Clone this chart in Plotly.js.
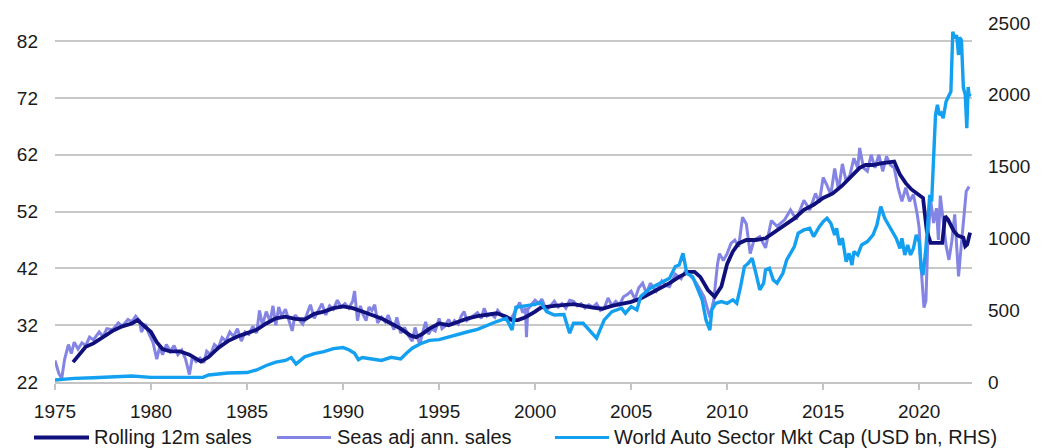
<!DOCTYPE html>
<html>
<head>
<meta charset="utf-8">
<script src="https://cdn.plot.ly/plotly-3.0.1.min.js"></script>
<style>html,body{margin:0;padding:0;background:#fff;}#chart{width:1055px;height:448px;}</style>
</head>
<body>
<div id="chart"></div>
<script>
// ---- Data ----
const rollYears = [1975.94,1976.3,1976.6,1977.0,1977.5,1978.0,1978.5,1979.0,1979.3,1979.7,1980.0,1980.3,1980.6,1981.0,1981.5,1982.0,1982.3,1982.6,1983.0,1983.5,1984.0,1984.5,1985.0,1985.5,1986.0,1986.5,1987.0,1987.5,1988.0,1988.5,1989.0,1989.5,1990.0,1990.5,1991.0,1991.5,1992.0,1992.5,1993.0,1993.5,1993.8,1994.1,1994.5,1995.0,1995.5,1996.0,1996.5,1997.0,1997.5,1998.0,1998.5,1998.8,1999.1,1999.5,2000.0,2000.3,2001.0,2002.0,2003.0,2003.5,2004.0,2004.5,2005.0,2005.5,2006.0,2006.5,2007.0,2007.5,2008.0,2008.3,2008.6,2009.0,2009.35,2009.7,2010.0,2010.3,2010.6,2011.0,2011.5,2012.0,2012.5,2013.0,2013.5,2014.0,2014.5,2015.0,2015.5,2016.0,2016.5,2016.9,2017.2,2017.6,2018.0,2018.7,2019.0,2019.3,2019.6,2020.0,2020.2,2020.4,2020.6,2021.2,2021.35,2021.5,2021.8,2022.0,2022.3,2022.4,2022.5,2022.65];
const rollSales = [25.5,27.0,28.2,28.8,29.9,31.0,31.8,32.3,32.9,31.8,30.8,29.0,27.8,27.4,27.4,26.8,26.2,25.6,26.4,28.0,29.2,30.0,30.6,31.2,32.3,33.2,33.5,33.1,33.0,34.0,34.4,35.0,35.3,35.0,34.4,33.8,33.2,32.3,31.4,30.2,29.9,30.4,31.4,32.3,32.0,32.6,33.2,33.6,33.9,34.1,33.5,32.9,32.9,33.4,34.4,35.1,35.4,35.7,35.1,34.9,35.4,35.8,36.1,36.7,37.6,38.5,39.4,40.5,41.4,41.4,40.5,38.2,37.0,38.8,42.8,45.0,46.4,47.0,47.0,47.3,48.5,49.6,50.8,52.3,53.2,54.4,55.2,56.6,58.2,59.7,60.2,60.2,60.5,60.8,58.5,57.0,55.9,55.0,54.4,48.5,46.5,46.5,51.2,50.6,48.6,47.8,47.4,45.9,46.2,48.3];

const seasYears = [1975.0,1975.2,1975.35,1975.5,1975.7,1975.85,1976.0,1976.2,1976.4,1976.6,1976.8,1977.0,1977.3,1977.5,1977.7,1978.0,1978.3,1978.5,1978.8,1979.0,1979.2,1979.4,1979.5,1979.7,1979.9,1980.1,1980.3,1980.45,1980.6,1980.8,1981.0,1981.2,1981.4,1981.6,1981.8,1982.0,1982.15,1982.35,1982.55,1982.75,1982.9,1983.1,1983.3,1983.5,1983.7,1983.9,1984.1,1984.3,1984.5,1984.7,1984.9,1985.1,1985.3,1985.5,1985.65,1985.8,1986.0,1986.2,1986.35,1986.5,1986.65,1986.8,1987.0,1987.2,1987.35,1987.5,1987.7,1987.9,1988.1,1988.3,1988.5,1988.7,1988.9,1989.1,1989.3,1989.5,1989.7,1989.9,1990.1,1990.3,1990.5,1990.6,1990.75,1990.9,1991.05,1991.2,1991.35,1991.5,1991.65,1991.8,1992.0,1992.2,1992.35,1992.5,1992.65,1992.8,1993.0,1993.2,1993.4,1993.6,1993.75,1993.9,1994.0,1994.15,1994.3,1994.45,1994.6,1994.8,1995.0,1995.15,1995.3,1995.5,1995.65,1995.8,1996.0,1996.15,1996.3,1996.45,1996.6,1996.8,1997.0,1997.2,1997.35,1997.5,1997.7,1997.9,1998.05,1998.25,1998.45,1998.6,1998.8,1999.0,1999.2,1999.35,1999.5,1999.55,1999.62,1999.8,2000.0,2000.2,2000.35,2000.6,2000.8,2001.0,2001.2,2001.4,2001.6,2001.8,2002.0,2002.2,2002.4,2002.6,2002.8,2003.0,2003.2,2003.4,2003.6,2003.8,2004.0,2004.2,2004.4,2004.6,2004.8,2005.0,2005.2,2005.4,2005.6,2005.8,2006.0,2006.3,2006.6,2006.8,2007.0,2007.3,2007.6,2007.8,2008.0,2008.3,2008.5,2008.8,2009.0,2009.1,2009.3,2009.5,2009.6,2009.8,2010.0,2010.2,2010.4,2010.6,2010.8,2011.0,2011.2,2011.4,2011.7,2012.0,2012.3,2012.6,2013.0,2013.3,2013.6,2014.0,2014.3,2014.6,2014.8,2015.0,2015.2,2015.4,2015.6,2015.8,2016.0,2016.2,2016.4,2016.6,2016.8,2016.9,2017.1,2017.3,2017.5,2017.7,2017.9,2018.1,2018.3,2018.5,2018.7,2018.9,2019.1,2019.3,2019.5,2019.7,2019.9,2020.0,2020.1,2020.25,2020.35,2020.45,2020.6,2020.75,2020.9,2021.0,2021.1,2021.25,2021.4,2021.55,2021.7,2021.85,2021.95,2022.05,2022.15,2022.3,2022.45,2022.6];
const seasSales = [25.8,23.5,22.6,26.0,28.6,27.0,29.0,27.8,28.9,28.4,29.9,29.4,30.8,30.0,31.4,31.2,32.4,31.8,33.0,32.6,33.6,32.8,30.8,32.2,30.4,29.0,26.0,28.2,26.8,28.6,27.4,28.4,26.8,27.6,26.0,23.3,26.4,25.6,26.2,25.4,27.4,26.8,28.6,28.0,29.8,29.2,30.8,30.0,31.4,29.2,30.8,30.4,31.8,30.6,34.6,32.0,34.4,32.6,35.4,32.0,35.2,33.6,34.8,32.4,31.0,33.8,33.0,32.2,33.8,35.6,33.2,34.6,35.8,33.8,35.4,34.8,36.4,35.2,35.8,35.0,36.2,38.0,32.8,35.4,33.8,32.8,35.2,34.6,35.6,32.4,33.4,32.6,33.8,32.4,31.2,33.4,30.6,31.6,30.2,29.2,31.6,29.6,28.6,30.8,32.6,30.4,31.4,31.0,33.2,31.4,31.8,33.0,32.0,32.8,32.2,33.6,34.4,32.8,33.2,33.8,34.2,33.2,35.0,33.6,34.0,33.4,34.6,33.8,33.0,32.6,33.4,34.6,36.0,34.2,35.0,29.9,34.8,35.6,36.4,35.8,36.6,34.6,35.4,36.2,35.2,35.8,35.0,36.4,36.2,35.4,35.8,35.0,35.6,35.2,35.8,34.6,35.0,36.8,35.4,36.2,35.6,37.0,37.4,38.0,36.6,38.6,39.4,37.6,39.4,38.0,39.8,39.0,38.8,41.0,40.2,41.4,41.0,39.9,38.8,37.0,34.6,33.4,36.4,42.8,44.6,43.4,44.6,46.4,47.0,45.8,51.0,49.8,44.6,47.0,47.6,45.6,50.4,49.4,50.6,52.3,50.6,54.0,52.3,55.2,53.6,58.0,56.6,55.0,59.6,55.8,60.4,57.3,58.5,61.4,59.7,63.2,59.7,59.1,62.0,59.7,62.0,59.1,61.7,60.2,59.7,56.2,53.8,56.2,53.8,55.0,51.5,49.1,42.1,35.1,36.3,46.8,54.0,50.0,52.6,47.0,54.8,50.3,46.0,43.5,46.8,51.5,45.6,40.6,44.5,50.3,55.6,56.4];

const capYears = [1975.0,1975.5,1976.0,1977.0,1978.0,1979.0,1980.0,1981.0,1982.0,1982.7,1983.0,1984.0,1985.0,1985.5,1986.0,1986.5,1987.0,1987.3,1987.55,1988.0,1988.5,1989.0,1989.5,1990.0,1990.3,1990.6,1990.8,1991.0,1991.5,1992.0,1992.5,1993.0,1993.3,1993.6,1994.0,1994.5,1995.0,1995.5,1996.0,1996.5,1997.0,1997.5,1998.0,1998.5,1998.8,1999.0,1999.5,2000.0,2000.3,2000.6,2001.0,2001.5,2001.8,2002.0,2002.5,2003.0,2003.2,2003.6,2004.0,2004.5,2004.7,2005.0,2005.3,2005.5,2006.0,2006.5,2006.8,2007.0,2007.3,2007.5,2007.7,2007.9,2008.2,2008.5,2008.7,2008.9,2009.1,2009.2,2009.4,2009.7,2010.0,2010.3,2010.5,2010.7,2010.9,2011.1,2011.3,2011.5,2011.7,2011.9,2012.0,2012.2,2012.4,2012.6,2012.9,2013.1,2013.3,2013.5,2013.7,2014.0,2014.3,2014.5,2014.8,2015.0,2015.2,2015.4,2015.6,2015.7,2015.85,2016.0,2016.2,2016.35,2016.5,2016.6,2016.8,2017.0,2017.3,2017.6,2017.8,2018.0,2018.2,2018.5,2018.8,2019.0,2019.1,2019.25,2019.4,2019.55,2019.7,2019.85,2020.0,2020.1,2020.2,2020.35,2020.45,2020.55,2020.65,2020.75,2020.85,2020.95,2021.05,2021.15,2021.25,2021.4,2021.55,2021.65,2021.75,2021.85,2021.95,2022.05,2022.1,2022.2,2022.3,2022.4,2022.48,2022.55,2022.6,2022.65];
const capUsdBn = [14,20,25,30,36,42,32,30,30,32,49,63,66,84,115,138,150,170,125,175,198,212,232,240,225,200,155,170,160,150,172,160,200,235,265,290,295,315,330,350,367,397,421,444,362,520,530,540,555,490,467,470,340,409,409,330,305,432,490,514,479,525,502,595,653,688,711,722,804,815,896,757,734,641,572,432,362,502,548,560,548,572,548,664,804,827,862,757,641,688,780,792,711,688,757,850,896,943,1036,1059,1071,1013,1082,1117,1141,1106,1024,1071,954,1001,838,896,815,908,885,954,978,1024,1094,1222,1141,1071,1001,931,1001,885,954,885,931,1024,978,792,745,931,1117,1303,1257,1582,1860,1930,1860,1872,1837,1953,2000,2023,2439,2393,2416,2277,2400,2380,2050,2000,1768,2054,1990,2010];

const seriesNames = ["Rolling 12m sales", "Seas adj ann. sales", "World Auto Sector Mkt Cap (USD bn, RHS)"];
const seriesColors = ["#10107c", "#8484e4", "#14a0f0"];
const leftTicks = [22, 32, 42, 52, 62, 72, 82];
const rightTicks = [0, 500, 1000, 1500, 2000, 2500];
const xTicks = [1975, 1980, 1985, 1990, 1995, 2000, 2005, 2010, 2015, 2020];

// ---- Layout helpers ----
const W = 1055, H = 448;
const M = {l: 55, r: 83, t: 23, b: 66};
const PW = W - M.l - M.r, PH = H - M.t - M.b;
const px = x => (x - M.l) / PW;
const py = y => (H - M.b - y) / PH;
const FONT = '"Liberation Sans", Arial, sans-serif';
const TXT = '#1a1a1a';

const traces = [
  {x: seasYears, y: seasSales, name: seriesNames[1], type: 'scatter', mode: 'lines',
   line: {color: seriesColors[1], width: 3}, yaxis: 'y'},
  {x: rollYears, y: rollSales, name: seriesNames[0], type: 'scatter', mode: 'lines',
   line: {color: seriesColors[0], width: 3.8}, yaxis: 'y'},
  {x: capYears, y: capUsdBn, name: seriesNames[2], type: 'scatter', mode: 'lines',
   line: {color: seriesColors[2], width: 3.4}, yaxis: 'y2'}
];

// custom legend (lines + labels) below the x axis
const legendItems = [
  {idx: 0, x0: 34, x1: 89, tx: 92},
  {idx: 1, x0: 277, x1: 331, tx: 335},
  {idx: 2, x0: 555, x1: 609, tx: 612}
];
const legendY = 437.5;
const shapes = legendItems.map(it => ({
  type: 'line', xref: 'paper', yref: 'paper',
  x0: px(it.x0), x1: px(it.x1), y0: py(legendY), y1: py(legendY),
  line: {color: seriesColors[it.idx], width: it.idx === 0 ? 3.8 : 3.2}
}));
const annotations = legendItems.map(it => ({
  xref: 'paper', yref: 'paper', x: px(it.tx), y: py(legendY),
  xanchor: 'left', yanchor: 'middle', showarrow: false,
  text: seriesNames[it.idx], font: {family: FONT, size: 20, color: TXT}
}));

const layout = {
  width: W, height: H,
  margin: M,
  paper_bgcolor: '#ffffff', plot_bgcolor: '#ffffff',
  showlegend: false,
  font: {family: FONT, size: 19, color: TXT},
  xaxis: {
    range: [1975, 2022.75], tickmode: 'array', tickvals: xTicks, ticktext: xTicks.map(String),
    ticks: 'outside', ticklen: 6, tickwidth: 2, tickcolor: '#c4c4c4',
    showline: true, linecolor: '#c4c4c4', linewidth: 2,
    showgrid: false, zeroline: false,
    tickfont: {family: FONT, size: 19, color: TXT}, ticklabelstandoff: 5
  },
  yaxis: {
    range: [22, 85.2], tickmode: 'array', tickvals: leftTicks, ticktext: leftTicks.map(String),
    showgrid: true, gridcolor: '#c8c8c8', gridwidth: 2,
    zeroline: false, showline: false, ticks: '',
    tickfont: {family: FONT, size: 19, color: TXT}, ticklabelstandoff: 16
  },
  yaxis2: {
    overlaying: 'y', side: 'right', anchor: 'x',
    range: [0, 2500], tickmode: 'array', tickvals: rightTicks, ticktext: rightTicks.map(String),
    showgrid: false, zeroline: false, showline: false, ticks: '',
    tickfont: {family: FONT, size: 19, color: TXT}, ticklabelstandoff: 15
  },
  shapes: shapes,
  annotations: annotations
};

Plotly.newPlot('chart', traces, layout, {displayModeBar: false, staticPlot: true});
</script>
</body>
</html>
